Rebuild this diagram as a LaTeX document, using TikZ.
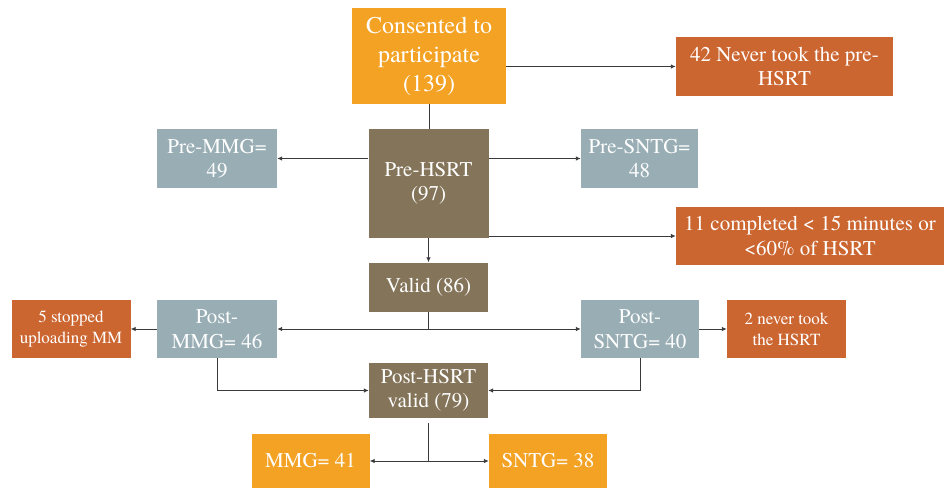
\documentclass[tikz,border=0pt]{standalone}
\usepackage{fontspec}
\setmainfont{TeX Gyre Termes}
\newfontfamily\tnr{TeX Gyre Termes}
\usetikzlibrary{arrows.meta}
\definecolor{corange}{HTML}{F3A224}
\definecolor{crust}{HTML}{CC6631}
\definecolor{cblue}{HTML}{98ADB4}
\definecolor{cbrown}{HTML}{847459}
\definecolor{cline}{HTML}{3A3A3A}
\tikzset{
  box/.style={rectangle, inner sep=0pt, align=center, text=white,
    font=\tnr\fontsize{21}{24.5}\selectfont},
  bigbox/.style={box, font=\tnr\fontsize{24}{29}\selectfont},
  smallbox/.style={box, font=\tnr\fontsize{17}{21}\selectfont},
  arr/.style={draw=cline, line width=0.9pt, -{Latex[length=5pt,width=4.5pt]}},
  ln/.style={draw=cline, line width=0.9pt},
}
\begin{document}
\begin{tikzpicture}[x=1pt,y=-1pt]
\useasboundingbox (0,0) rectangle (946,488);
% nodes
\node[bigbox, fill=corange, minimum width=154pt, minimum height=96pt] (cons) at (429,56) {Consented to\\participate\\(139)};
\node[box, fill=crust, minimum width=217pt, minimum height=59pt] (never42) at (784.5,66.5) {42 Never took the pre-\\HSRT};
\node[box, fill=cblue, minimum width=120pt, minimum height=59pt] (premmg) at (217,158.5) {Pre-MMG=\\49};
\node[box, fill=cbrown, minimum width=120pt, minimum height=109pt] (prehsrt) at (428.5,183.5) {Pre-HSRT\\(97)};
\node[box, fill=cblue, minimum width=117pt, minimum height=59pt] (presntg) at (639.5,158.5) {Pre-SNTG=\\48};
\node[box, fill=crust, minimum width=268pt, minimum height=58pt] (comp11) at (810,236) {11 completed < 15 minutes or\\<60\% of HSRT};
\node[box, fill=cbrown, minimum width=119pt, minimum height=49pt] (valid) at (428.5,287) {Valid (86)};
\node[box, fill=cblue, minimum width=120pt, minimum height=58pt] (postmmg) at (217,329) {Post-\\MMG= 46};
\node[smallbox, fill=crust, minimum width=119pt, minimum height=58pt] (stop5) at (71,329) {5 stopped\\uploading MM};
\node[box, fill=cblue, minimum width=118pt, minimum height=58pt] (postsntg) at (640,329) {Post-\\SNTG= 40};
\node[smallbox, fill=crust, minimum width=119pt, minimum height=58pt] (never2) at (786.5,329) {2 never took\\the HSRT};
\node[box, fill=cbrown, minimum width=119pt, minimum height=55pt] (posthsrt) at (428.5,390.5) {Post-HSRT\\valid (79)};
\node[box, fill=corange, minimum width=118pt, minimum height=54pt] (mmg) at (310.5,461) {MMG= 41};
\node[box, fill=corange, minimum width=118pt, minimum height=54pt] (sntg) at (548,461) {SNTG= 38};
% connectors
\draw[ln] (cons.south) -- (cons.south |- prehsrt.north);
\draw[arr] (cons.east |- never42.west) -- (never42.west);
\draw[arr] (prehsrt.west |- premmg.east) -- (premmg.east);
\draw[arr] (prehsrt.east |- presntg.west) -- (presntg.west);
\draw[arr] (prehsrt.east |- comp11.west) -- (comp11.west);
\draw[arr] (prehsrt.south) -- (valid.north);
\coordinate (j1) at (valid.south |- postmmg.east);
\draw[ln] (valid.south) -- (j1);
\draw[arr] (j1) -- (postmmg.east);
\draw[arr] (j1) -- (postsntg.west);
\draw[arr] (postmmg.west) -- (stop5.east);
\draw[arr] (postsntg.east) -- (never2.west);
\draw[arr] (postmmg.south) |- (posthsrt.west);
\draw[arr] (postsntg.south) |- (posthsrt.east);
\coordinate (j2) at (posthsrt.south |- mmg.east);
\draw[ln] ([yshift=-5pt]posthsrt.south) -- (j2);
\draw[arr] (j2) -- (mmg.east);
\draw[arr] (j2) -- (sntg.west);
\end{tikzpicture}
\end{document}
